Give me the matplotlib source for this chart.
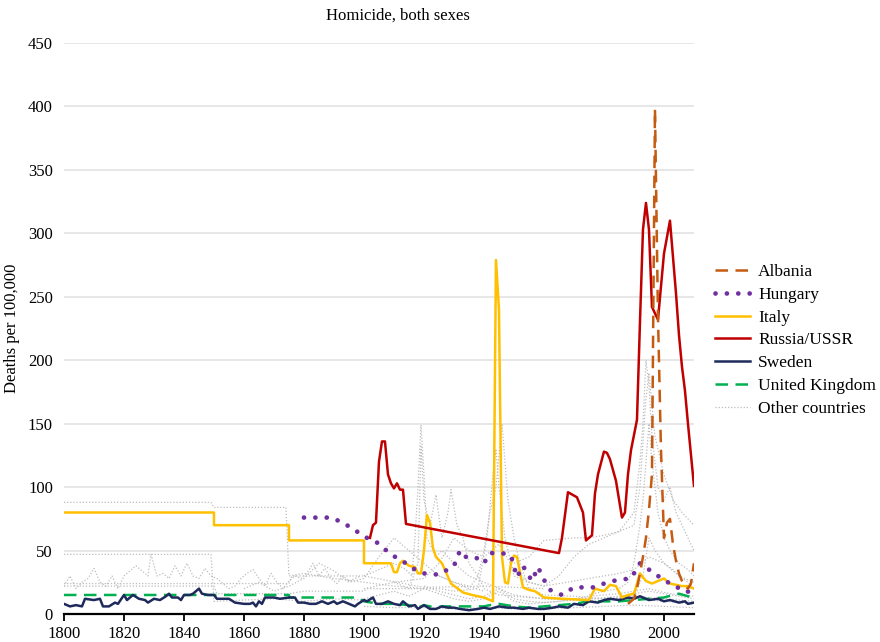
import matplotlib
matplotlib.use("Agg")
import matplotlib.pyplot as plt
from matplotlib.lines import Line2D

plt.rcParams["font.family"] = ["Liberation Serif", "DejaVu Serif"]

# Highlighted countries: (years, deaths per 100,000)
albania_years = [1988, 1990, 1991, 1992, 1993, 1994, 1995, 1996, 1997, 1998, 1999, 2000,
                 2001, 2002, 2003, 2004, 2005, 2006, 2007, 2008, 2009, 2010]
albania_vals = [8, 12, 20, 32, 45, 60, 82, 110, 398, 235, 130, 60,
                72, 75, 55, 42, 32, 26, 22, 20, 24, 40]

hungary_years = [1880, 1885, 1889, 1893, 1897, 1901, 1904, 1908, 1911, 1914, 1917, 1920, 1925,
                 1930, 1932, 1934, 1937, 1940, 1942, 1946, 1949, 1951, 1953, 1956, 1958,
                 1960, 1962, 1966, 1970, 1973, 1977, 1981, 1985, 1989, 1992, 1995, 1998,
                 2000, 2004, 2007, 2010]
hungary_vals = [76, 76, 76, 72, 66, 60, 57, 49, 44, 40, 35, 32, 31,
                38, 50, 45, 45, 40, 48, 48, 46, 29, 38, 26, 37,
                27, 19, 15, 21, 21, 21, 25, 27, 28, 40, 35, 30,
                27, 21, 20, 13]

italy_years = [1800, 1850, 1850, 1875, 1875, 1900, 1900, 1909, 1910, 1911, 1912, 1913, 1915,
               1917, 1918, 1919, 1920, 1921, 1922, 1923, 1924, 1926, 1929, 1933, 1936,
               1940, 1942, 1943, 1944, 1945, 1946, 1947, 1948, 1949, 1950, 1951, 1953,
               1955, 1957, 1960, 1966, 1975, 1977, 1980, 1982, 1984, 1986, 1988, 1990,
               1992, 1994, 1996, 1998, 2000, 2002, 2004, 2006, 2008, 2010]
italy_vals = [80, 80, 70, 70, 58, 58, 40, 40, 33, 33, 40, 42, 38,
              37, 32, 32, 50, 78, 72, 52, 45, 40, 24, 17, 15,
              13, 11, 10, 279, 240, 45, 25, 24, 40, 46, 45, 21,
              19, 18, 13, 12, 11, 20, 18, 23, 22, 13, 15, 16,
              32, 26, 24, 26, 28, 24, 23, 22, 22, 20]

russia_years = [1902, 1903, 1904, 1905, 1906, 1907, 1908, 1909, 1910, 1911, 1912, 1913, 1914,
                1965, 1966, 1968, 1971, 1973, 1974, 1976, 1977, 1978, 1980, 1981, 1982,
                1984, 1986, 1987, 1988, 1989, 1991, 1992, 1993, 1994, 1995, 1996, 1998,
                2000, 2002, 2004, 2005, 2006, 2007, 2008, 2010]
russia_vals = [60, 70, 72, 120, 136, 136, 110, 103, 99, 103, 98, 98, 71,
               48, 60, 96, 92, 80, 58, 62, 95, 110, 128, 127, 122,
               105, 76, 80, 110, 129, 153, 230, 303, 324, 303, 242, 232,
               284, 310, 253, 220, 195, 176, 150, 101]

sweden_years = [1800, 1802, 1804, 1806, 1807, 1810, 1812, 1813, 1815, 1817, 1818, 1820, 1821,
                1823, 1825, 1827, 1828, 1830, 1832, 1834, 1835, 1836, 1838, 1839, 1840, 1842,
                1843, 1845, 1846, 1848, 1850, 1851, 1855, 1857, 1860, 1862, 1863, 1864, 1865,
                1866, 1867, 1870, 1872, 1875, 1877, 1878, 1880, 1882, 1884, 1886, 1888, 1890,
                1891, 1893, 1895, 1897, 1898, 1900, 1901, 1903, 1904, 1906, 1908, 1910, 1912,
                1913, 1915, 1917, 1918, 1920, 1922, 1924, 1926, 1928, 1930, 1932, 1935, 1938,
                1940, 1942, 1945, 1948, 1950, 1953, 1955, 1958, 1960, 1963, 1965, 1968, 1970,
                1973, 1975, 1978, 1980, 1982, 1985, 1988, 1990, 1992, 1995, 1998, 2000, 2002,
                2005, 2007, 2008, 2010]
sweden_vals = [8, 6, 7, 6, 12, 11, 12, 6, 6, 9, 8, 15, 11,
               15, 12, 11, 9, 12, 11, 14, 16, 13, 13, 11, 15, 15,
               16, 20, 16, 15, 15, 12, 12, 9, 8, 8, 9, 6, 10,
               8, 13, 13, 12, 13, 13, 9, 9, 8, 8, 10, 8, 10,
               8, 10, 8, 6, 8, 11, 10, 13, 8, 8, 10, 8, 7,
               10, 6, 7, 4, 7, 4, 4, 6, 5, 5, 4, 3, 4,
               5, 4, 6, 5, 5, 4, 5, 4, 4, 5, 6, 5, 8,
               7, 10, 9, 11, 12, 11, 13, 12, 14, 11, 12, 10, 11,
               9, 10, 8, 9]

uk_years = [1800, 1875, 1875, 1898, 1900, 1905, 1910, 1915, 1918, 1920, 1924, 1926, 1930,
            1935, 1940, 1942, 1945, 1950, 1955, 1960, 1965, 1970, 1975, 1980, 1985, 1990,
            1995, 2000, 2003, 2005, 2008, 2010]
uk_vals = [15, 15, 13, 13, 10, 8, 8, 7, 5, 7, 5, 6, 6,
           6, 6, 7, 8, 6, 5, 6, 7, 8, 10, 10, 10, 11,
           12, 13, 15, 16, 14, 12]

# Remaining countries, drawn as faint background lines
other_countries = [
    ([1800, 1849, 1850, 1874, 1875, 1880, 1890, 1900, 1910, 1920],
     [88, 88, 84, 84, 30, 32, 28, 25, 22, 20]),
    ([1800, 1849, 1850, 1860, 1870, 1880, 1890, 1900],
     [47, 47, 10, 11, 12, 10, 12, 11]),
    ([1800, 1850, 1875, 1876, 1890, 1900, 1920, 1940, 1960],
     [24, 24, 24, 30, 30, 30, 21, 22, 20]),
    ([1800, 1850, 1851, 1875, 1880, 1900, 1901, 1925, 1930],
     [22, 22, 16, 16, 18, 18, 20, 20, 18]),
    ([1800, 1802, 1804, 1806, 1808, 1810, 1812, 1814, 1816, 1818, 1820, 1822, 1824,
      1826, 1828, 1829, 1831, 1833, 1835, 1837, 1839, 1841, 1843, 1845, 1847, 1849,
      1851, 1853, 1855, 1857, 1859, 1861, 1863, 1865, 1867, 1869, 1871, 1873, 1875,
      1877, 1879, 1881, 1883, 1885, 1887, 1889, 1891, 1893, 1895, 1897, 1899],
     [22, 30, 20, 25, 28, 36, 25, 22, 30, 20, 30, 34, 38,
      34, 30, 47, 30, 32, 28, 38, 30, 40, 30, 28, 36, 30,
      28, 24, 20, 22, 28, 32, 35, 28, 22, 32, 25, 20, 26,
      30, 28, 32, 40, 30, 36, 28, 24, 30, 26, 28, 30]),
    ([1900, 1905, 1910, 1914, 1916, 1917, 1918, 1919, 1920, 1921, 1922, 1924, 1926,
      1930, 1935, 1940, 1945, 1950, 1960, 1970, 1980, 1990, 2000, 2010],
     [30, 35, 40, 35, 30, 60, 100, 149, 110, 60, 55, 45, 50,
      40, 30, 25, 20, 15, 12, 12, 12, 12, 10, 8]),
    ([1910, 1915, 1918, 1919, 1920, 1922, 1924, 1926, 1928, 1929, 1931, 1933, 1935,
      1938, 1940, 1945, 1950, 1960, 1970, 1980],
     [25, 20, 40, 132, 90, 70, 94, 60, 80, 98, 70, 60, 40,
      30, 20, 15, 14, 12, 11, 10]),
    ([1925, 1930, 1935, 1938, 1940, 1942, 1944, 1946, 1947, 1948, 1950, 1952, 1955,
      1960, 1970, 1980, 1990, 2000, 2010],
     [30, 25, 20, 30, 50, 80, 100, 150, 120, 90, 60, 40, 20,
      15, 14, 12, 14, 12, 10]),
    ([1930, 1938, 1941, 1943, 1944, 1945, 1947, 1950, 1955, 1960, 1965, 1970, 1975,
      1980, 1985, 1990, 1992, 1993, 1994, 1995, 1996, 1997, 1998, 2000, 2002, 2004,
      2006, 2008, 2010],
     [18, 20, 60, 110, 130, 100, 60, 30, 25, 22, 30, 45, 55,
      60, 65, 80, 120, 150, 200, 180, 140, 120, 100, 90, 100, 80,
      70, 60, 50]),
    ([1950, 1955, 1960, 1965, 1970, 1975, 1980, 1985, 1990, 1992, 1994, 1995, 1997,
      2000, 2003, 2006, 2010],
     [40, 45, 58, 59, 60, 60, 62, 65, 70, 100, 170, 190, 140,
      110, 90, 80, 70]),
    ([1975, 1980, 1985, 1988, 1990, 1992, 1993, 1995, 1996, 1998, 2000, 2002, 2005,
      2008, 2010],
     [15, 18, 20, 25, 40, 70, 90, 150, 120, 80, 60, 50, 40,
      35, 30]),
    ([1900, 1905, 1910, 1915, 1920, 1925, 1930, 1935, 1940, 1945, 1950, 1955, 1960,
      1965, 1970, 1975, 1980, 1985, 1990, 1995, 2000, 2005, 2010],
     [12, 15, 18, 14, 20, 16, 12, 10, 12, 18, 10, 8, 9,
      10, 12, 14, 15, 16, 18, 20, 17, 15, 14]),
    ([1900, 1910, 1920, 1925, 1930, 1935, 1940, 1945, 1950, 1955, 1960, 1965, 1970,
      1975, 1980, 1985, 1990, 1995, 2000, 2005, 2010],
     [20, 25, 28, 40, 60, 50, 45, 55, 35, 25, 22, 24, 26,
      28, 30, 32, 35, 45, 40, 30, 25]),
    ([1860, 1865, 1870, 1875, 1880, 1885, 1890, 1895, 1900, 1905, 1910, 1915, 1920,
      1925, 1930, 1935, 1940],
     [20, 25, 18, 22, 28, 40, 34, 25, 28, 45, 60, 50, 40,
      30, 25, 22, 18]),
    ([1900, 1910, 1920, 1930, 1940, 1950, 1960, 1970, 1980, 1990, 2000, 2010],
     [6, 5, 5, 4, 5, 4, 4, 5, 6, 7, 6, 5]),
    ([1920, 1925, 1930, 1935, 1940, 1945, 1950, 1955, 1960, 1965, 1970, 1975, 1980,
      1985, 1990, 1995, 2000, 2005, 2010],
     [22, 18, 15, 12, 14, 20, 12, 10, 9, 10, 11, 12, 13,
      14, 16, 18, 16, 14, 12]),
    ([1985, 1990, 1993, 1995, 1997, 2000, 2003, 2005, 2008, 2010],
     [10, 15, 30, 60, 50, 40, 35, 30, 25, 20]),
]

fig = plt.figure(figsize=(8.8, 6.42), dpi=100)
ax = fig.add_axes([0.0727, 0.0436, 0.7159, 0.8894])

for yrs, vals in other_countries:
    ax.plot(yrs, vals, color="#bdbdbd", lw=0.9, ls=(0, (1, 1.5)), zorder=2)

ax.plot(uk_years, uk_vals, color="#00b050", lw=1.8, ls=(0, (5, 3)), zorder=3)
ax.plot(sweden_years, sweden_vals, color="#1f2a5c", lw=1.8, zorder=4)
ax.plot(italy_years, italy_vals, color="#ffc000", lw=1.8, zorder=5)
ax.plot(hungary_years, hungary_vals, color="#7030a0", lw=3.4, ls=(0, (0.01, 2.4)),
        dash_capstyle="round", zorder=6)
ax.plot(russia_years, russia_vals, color="#c00000", lw=1.8, zorder=7)
ax.plot(albania_years, albania_vals, color="#c55a11", lw=1.8, ls=(0, (5, 3)), zorder=8)

ax.set_xlim(1800, 2010)
ax.set_ylim(0, 450)
ax.set_yticks(range(0, 451, 50))
ax.set_xticks(range(1800, 2001, 20))
ax.grid(axis="y", color="#e3e3e3", lw=1.2)
ax.set_axisbelow(True)
for side in ("left", "right", "top"):
    ax.spines[side].set_visible(False)
ax.spines["bottom"].set_linewidth(1.6)
ax.tick_params(axis="y", length=0, pad=8, labelsize=12)
ax.tick_params(axis="x", length=5, width=1.3, labelsize=12)
ax.set_ylabel("Deaths per 100,000", fontsize=12, labelpad=6)

fig.text(0.452, 0.975, "Homicide, both sexes", ha="center", va="center", fontsize=12)

handles = [
    Line2D([], [], color="#c55a11", lw=1.8, ls=(0, (5, 3))),
    Line2D([], [], color="#7030a0", lw=3.4, ls=(0, (0.01, 2.4)), dash_capstyle="round"),
    Line2D([], [], color="#ffc000", lw=1.8),
    Line2D([], [], color="#c00000", lw=1.8),
    Line2D([], [], color="#1f2a5c", lw=1.8),
    Line2D([], [], color="#00b050", lw=1.8, ls=(0, (5, 3))),
    Line2D([], [], color="#bdbdbd", lw=0.9, ls=(0, (1, 1.5))),
]
labels = ["Albania", "Hungary", "Italy", "Russia/USSR", "Sweden", "United Kingdom",
          "Other countries"]
fig.legend(handles, labels, loc="center left", bbox_to_anchor=(0.813, 0.47),
           frameon=False, fontsize=12.5, handlelength=2.0, labelspacing=0.38,
           handletextpad=0.45, borderaxespad=0, borderpad=0)

fig.savefig("out.png", dpi=100)
